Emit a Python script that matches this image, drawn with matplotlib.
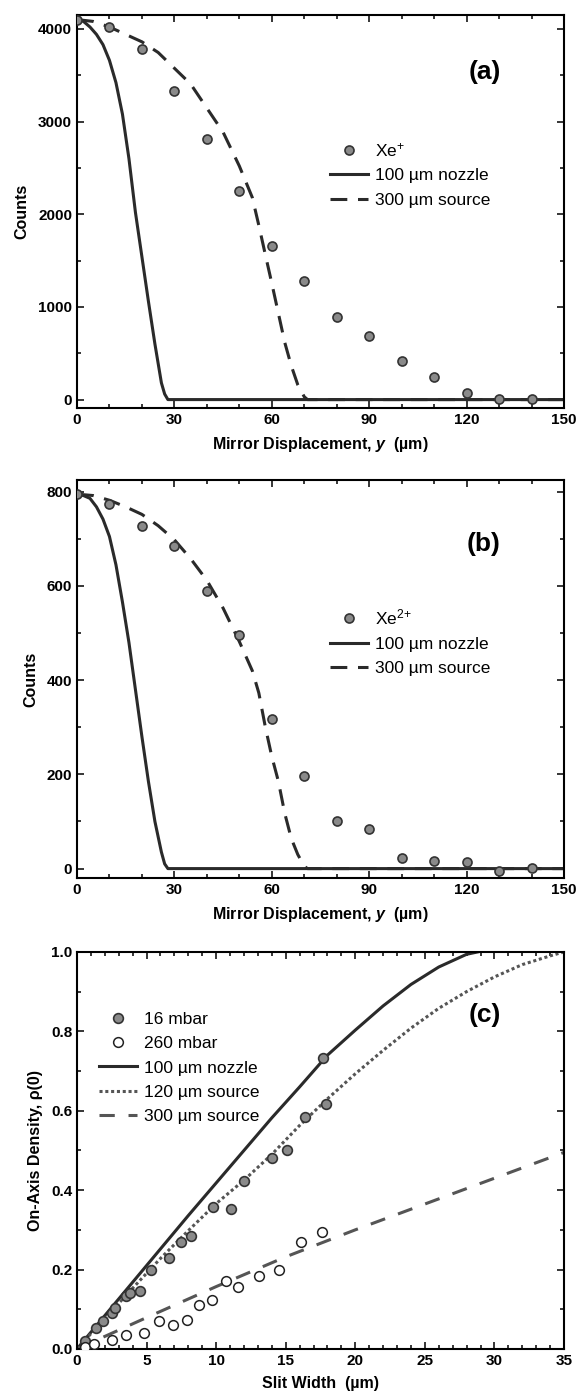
import matplotlib
matplotlib.use('Agg')
import matplotlib.pyplot as plt
from matplotlib.ticker import MultipleLocator

plt.rcParams['font.family'] = ['Liberation Sans', 'DejaVu Sans']
plt.rcParams['mathtext.fontset'] = 'custom'
plt.rcParams['mathtext.rm'] = 'Liberation Sans'
plt.rcParams['mathtext.it'] = 'Liberation Sans:italic:bold'

# panel (a): Xe+ counts vs mirror displacement
a_pts_x = [0, 10, 20, 30, 40, 50, 60, 70, 80, 90, 100, 110, 120, 130, 140]
a_pts_y = [4100, 4020, 3780, 3330, 2815, 2255, 1652, 1280, 895, 685, 413, 239, 76, 8, 8]
a_noz_x = [0, 2, 4, 6, 8, 10, 12, 14, 16, 18, 20, 22, 24, 26, 27, 28, 150]
a_noz_y = [4100, 4080, 4020, 3940, 3830, 3660, 3420, 3080, 2600, 2020, 1540, 1060, 600, 180, 60, 0, 0]
a_src_x = [0, 5, 10, 15, 20, 25, 30, 35, 40, 45, 50, 54, 56, 58, 60, 62, 64, 66, 68, 70, 71, 150]
a_src_y = [4100, 4080, 4020, 3940, 3860, 3745, 3575, 3405, 3145, 2885, 2520, 2180, 1880, 1565, 1255, 935, 615, 365, 160, 30, 0, 0]

# panel (b): Xe2+ counts
b_pts_x = [0, 10, 20, 30, 40, 50, 60, 70, 80, 90, 100, 110, 120, 130, 140]
b_pts_y = [795, 774, 727, 684, 590, 495, 317, 197, 101, 84, 23, 16, 13, -6, 2]
b_noz_x = [0, 2, 4, 6, 8, 10, 12, 14, 16, 18, 20, 22, 24, 26, 27, 28, 150]
b_noz_y = [795, 792, 786, 768, 742, 705, 645, 566, 480, 380, 280, 185, 100, 35, 10, 0, 0]
b_src_x = [0, 5, 10, 15, 20, 25, 30, 35, 40, 45, 50, 54, 56, 58, 60, 62, 64, 66, 68, 70, 71, 150]
b_src_y = [795, 792, 782, 768, 752, 728, 698, 658, 612, 553, 482, 420, 373, 301, 238, 186, 117, 64, 30, 5, 0, 0]

# panel (c): on-axis density vs slit width
c16_x = [0.6, 1.4, 1.9, 2.5, 2.7, 3.5, 3.8, 4.5, 5.3, 6.6, 7.5, 8.2, 9.8, 11.1, 12.0, 14.0, 15.1, 16.4, 17.7, 17.9]
c16_y = [0.02, 0.052, 0.07, 0.09, 0.104, 0.134, 0.142, 0.145, 0.198, 0.23, 0.27, 0.284,
         0.358, 0.352, 0.424, 0.482, 0.5, 0.585, 0.733, 0.616]
c260_x = [0.6, 1.2, 2.5, 3.5, 4.8, 5.9, 6.9, 7.9, 8.8, 9.7, 10.7, 11.6, 13.1, 14.5, 16.1, 17.6]
c260_y = [0.006, 0.012, 0.022, 0.035, 0.04, 0.07, 0.06, 0.073, 0.111, 0.123, 0.172, 0.156,
          0.183, 0.2, 0.269, 0.294]
c_noz_x = [0, 2, 4, 6, 8, 10, 12, 14, 16, 18, 20, 22, 24, 26, 28, 28.8]
c_noz_y = [0, 0.084, 0.168, 0.252, 0.336, 0.418, 0.5, 0.582, 0.66, 0.74, 0.803, 0.864, 0.918, 0.962, 0.994, 1.0]
c_120_x = [0, 2, 4, 6, 8, 10, 12, 14, 16, 18, 20, 22, 24, 26, 28, 30, 32, 34, 35]
c_120_y = [0, 0.077, 0.153, 0.228, 0.298, 0.366, 0.425, 0.49, 0.563, 0.63, 0.693, 0.752,
           0.808, 0.858, 0.9, 0.937, 0.968, 0.99, 1.0]
c_300_x = [0, 5, 10, 15, 20, 25, 30, 35]
c_300_y = [0, 0.079, 0.157, 0.232, 0.30, 0.365, 0.43, 0.495]

line_col = '#2a2a2a'
dot_face = '#8a8a8a'
dot_edge = '#333333'


def style_axes(ax):
    ax.tick_params(which='both', direction='in', top=True, right=True, width=1.1)
    ax.tick_params(which='major', length=5, labelsize=11)
    ax.tick_params(which='minor', length=3)
    for lab in ax.get_xticklabels() + ax.get_yticklabels():
        lab.set_fontweight('bold')
    for sp in ax.spines.values():
        sp.set_linewidth(1.5)


fig = plt.figure(figsize=(5.78, 13.97), dpi=100)

ax_a = fig.add_axes([0.1332, 0.708, 0.8426, 0.2813])
ax_b = fig.add_axes([0.1332, 0.3715, 0.8426, 0.2849])
ax_c = fig.add_axes([0.1332, 0.0344, 0.8426, 0.2842])

panels = [
    (ax_a, a_pts_x, a_pts_y, a_noz_x, a_noz_y, a_src_x, a_src_y, r'Xe$^{\mathregular{{+}}}$', '(a)',
     (-90, 4150), 1000, 500, 0.855),
    (ax_b, b_pts_x, b_pts_y, b_noz_x, b_noz_y, b_src_x, b_src_y, r'Xe$^{\mathregular{2{+}}}$', '(b)',
     (-20, 825), 200, 100, 0.84),
]

for ax, px, py, nx, ny, sx, sy, ion, tag, ylim, ymaj, ymin, tag_y in panels:
    ax.plot(px, py, 'o', ms=6.5, mfc=dot_face, mec=dot_edge, mew=1.2, label=ion, zorder=3)
    ax.plot(nx, ny, '-', color=line_col, lw=2.2, label='100 µm nozzle')
    ax.plot(sx, sy, color=line_col, lw=2.2, ls=(0, (5.5, 3.5)), label='300 µm source')
    ax.set_xlim(0, 150)
    ax.set_ylim(*ylim)
    ax.xaxis.set_major_locator(MultipleLocator(30))
    ax.xaxis.set_minor_locator(MultipleLocator(10))
    ax.yaxis.set_major_locator(MultipleLocator(ymaj))
    ax.yaxis.set_minor_locator(MultipleLocator(ymin))
    ax.set_xlabel('Mirror Displacement, $y$  (µm)', fontsize=11.5, fontweight='bold', labelpad=6)
    ax.set_ylabel('Counts', fontsize=11.5, fontweight='bold', labelpad=6)
    ax.text(0.87, tag_y, tag, transform=ax.transAxes, fontsize=19, fontweight='bold',
            ha='right', va='center')
    ax.legend(loc='upper left', bbox_to_anchor=(0.495, 0.71), frameon=False, fontsize=12.5,
              handlelength=2.2, handletextpad=0.4, labelspacing=0.53, borderpad=0.2)
    style_axes(ax)

ax_c.plot(c16_x, c16_y, 'o', ms=7, mfc=dot_face, mec=dot_edge, mew=1.2, label='16 mbar', zorder=3)
ax_c.plot(c260_x, c260_y, 'o', ms=7, mfc='white', mec='#222222', mew=1.1, label='260 mbar', zorder=3)
ax_c.plot(c_noz_x, c_noz_y, '-', color=line_col, lw=2.2, label='100 µm nozzle')
ax_c.plot(c_120_x, c_120_y, color='#555555', lw=2.2, ls=(0, (1, 0.9)), label='120 µm source')
ax_c.plot(c_300_x, c_300_y, color='#555555', lw=2.2, ls=(0, (5, 4.5)), label='300 µm source')
ax_c.set_xlim(0, 35)
ax_c.set_ylim(0, 1.0)
ax_c.xaxis.set_major_locator(MultipleLocator(5))
ax_c.xaxis.set_minor_locator(MultipleLocator(1))
ax_c.yaxis.set_major_locator(MultipleLocator(0.2))
ax_c.yaxis.set_minor_locator(MultipleLocator(0.1))
ax_c.yaxis.set_major_formatter(plt.FormatStrFormatter('%.1f'))
ax_c.set_xlabel('Slit Width  (µm)', fontsize=11.5, fontweight='bold', labelpad=6)
ax_c.set_ylabel('On-Axis Density, ρ(0)', fontsize=11.5, fontweight='bold', labelpad=6)
ax_c.text(0.87, 0.84, '(c)', transform=ax_c.transAxes, fontsize=19, fontweight='bold',
          ha='right', va='center')
ax_c.legend(loc='upper left', bbox_to_anchor=(0.02, 0.88), frameon=False, fontsize=12.5,
            handlelength=2.2, handletextpad=0.4, labelspacing=0.53, borderpad=0.2)
style_axes(ax_c)

fig.savefig('out.png', dpi=100)
